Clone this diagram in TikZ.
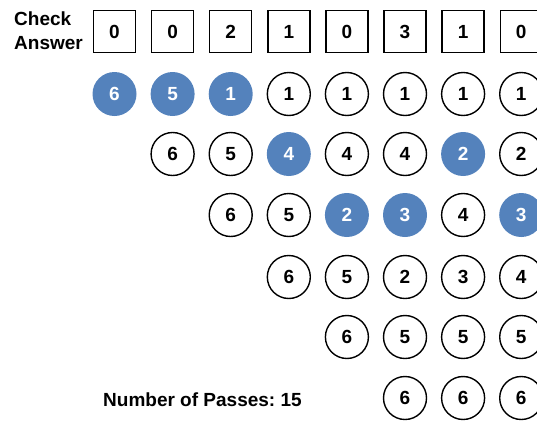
\documentclass[tikz,border=0pt]{standalone}
\usepackage{fontspec}
\setmainfont{Liberation Sans}
\definecolor{hl}{RGB}{84,130,188}
\frenchspacing
\begin{document}
\begin{tikzpicture}[x=1pt,y=1pt,
  every node/.style={font=\bfseries\fontsize{19}{22}\selectfont},
  ansbox/.style={draw=black,line width=1.4pt,minimum size=42pt,inner sep=0pt},
  cnum/.style={draw=black,circle,line width=1.4pt,minimum size=43pt,inner sep=0pt},
  cfill/.style={circle,fill=hl,text=white,minimum size=44pt,inner sep=0pt}]
\useasboundingbox (0,0) rectangle (537,-421);
\clip (0,0) rectangle (537,-421);
\node[anchor=west,align=left,inner sep=0pt,font=\bfseries\fontsize{19}{24}\selectfont] (lbl) at (14,-31) {Check\\Answer};
% answer boxes
\foreach \v [count=\i from 0] in {0,0,2,1,0,3,1,0}
  \node[ansbox] (a\i) at (114.5+58.1*\i,-31.5) {\v};
% rows: list of (col, value, filled)
\foreach \r/\y/\lst in {1/-94/{0/6/1,1/5/1,2/1/1,3/1/0,4/1/0,5/1/0,6/1/0,7/1/0},
                        2/-154/{1/6/0,2/5/0,3/4/1,4/4/0,5/4/0,6/2/1,7/2/0},
                        3/-215/{2/6/0,3/5/0,4/2/1,5/3/1,6/4/0,7/3/1},
                        4/-277/{3/6/0,4/5/0,5/2/0,6/3/0,7/4/0},
                        5/-337/{4/6/0,5/5/0,6/5/0,7/5/0},
                        6/-398/{5/6/0,6/6/0,7/6/0}}{
  \foreach \c/\v/\f in \lst {
    \ifnum\f=1
      \node[cfill] (n\r-\c) at (114.5+58.1*\c,\y) {\v};
    \else
      \node[cnum] (n\r-\c) at (114.5+58.1*\c,\y) {\v};
    \fi
  }
}
\node[anchor=west,inner sep=0pt] (passes) at (103,-400) {Number of Passes: 15};
\end{tikzpicture}
\end{document}
